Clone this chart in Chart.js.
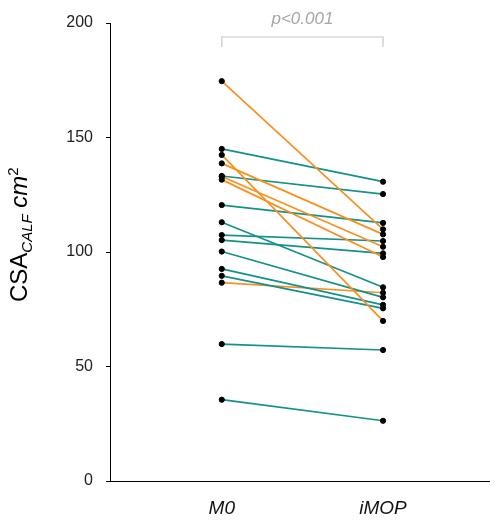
<!DOCTYPE html>
<html>
<head>
<meta charset="utf-8">
<script src="https://cdn.jsdelivr.net/npm/chart.js@4/dist/chart.umd.min.js"></script>
<style>
html,body{margin:0;padding:0;background:#fff;}
canvas{display:block;}
</style>
</head>
<body>
<canvas id="c" width="494" height="529"></canvas>
<script>
const timepoints = ['M0', 'iMOP'];
const m0Values   = [174.6, 145.0, 142.4, 138.7, 133.2, 133.0, 131.6, 120.5, 113.0, 107.4, 105.2, 100.2, 92.6, 89.6, 86.6, 59.8, 35.5];
const imopValues = [109.9, 130.7, 69.9, 107.7, 125.3, 102.3, 97.8, 112.7, 84.6, 104.8, 99.4, 80.2, 76.9, 75.4, 82.2, 57.2, 26.3];
const groups     = ['o','t','o','o','t','o','o','t','t','t','t','t','t','t','o','t','t'];
const yTicks = [0, 50, 100, 150, 200];
const pText = 'p<0.001';

const ORANGE = '#F7901E';
const TEAL = '#14918A';

const datasets = [];
m0Values.forEach((v, i) => {
  datasets.push({
    type: 'line',
    data: [{x: 0, y: v}, {x: 1, y: imopValues[i]}],
    borderColor: groups[i] === 'o' ? ORANGE : TEAL,
    borderWidth: 1.7,
    pointRadius: 0,
    order: 1
  });
});
datasets.push({
  type: 'scatter',
  data: m0Values.map(v => ({x: 0, y: v})),
  backgroundColor: '#000', borderColor: '#000', pointRadius: 2.6, order: 0
});
datasets.push({
  type: 'scatter',
  data: imopValues.map(v => ({x: 1, y: v})),
  backgroundColor: '#000', borderColor: '#000', pointRadius: 2.6, order: 0
});

const annot = {
  id: 'annot',
  afterDraw(chart) {
    const ctx = chart.ctx;
    const xs = chart.scales.x;
    const x0 = xs.getPixelForValue(0), x1 = xs.getPixelForValue(1);
    ctx.save();
    ctx.strokeStyle = '#c8c8c8';
    ctx.lineWidth = 1.2;
    ctx.beginPath();
    ctx.moveTo(x0, 47); ctx.lineTo(x0, 37); ctx.lineTo(x1, 37); ctx.lineTo(x1, 47);
    ctx.stroke();
    ctx.fillStyle = '#a6a6a6';
    ctx.font = 'italic 17px "Liberation Sans", Arial, sans-serif';
    ctx.textAlign = 'center';
    ctx.textBaseline = 'alphabetic';
    ctx.fillText(pText, (x0 + x1) / 2, 24);
    ctx.restore();

    ctx.save();
    ctx.translate(27, 302);
    ctx.rotate(-Math.PI / 2);
    ctx.fillStyle = '#000';
    ctx.textAlign = 'left';
    ctx.textBaseline = 'alphabetic';
    let x = 0;
    ctx.font = '24px "Liberation Sans", Arial, sans-serif';
    ctx.fillText('CSA', x, 0); x += ctx.measureText('CSA').width;
    ctx.font = 'italic 15px "Liberation Sans", Arial, sans-serif';
    ctx.fillText('CALF', x, 5); x += ctx.measureText('CALF').width;
    ctx.font = 'italic 24px "Liberation Sans", Arial, sans-serif';
    ctx.fillText(' cm', x, 0); x += ctx.measureText(' cm').width;
    ctx.font = '15px "Liberation Sans", Arial, sans-serif';
    ctx.fillText('2', x, -9);
    ctx.restore();
  }
};

new Chart(document.getElementById('c'), {
  data: { datasets },
  options: {
    responsive: false,
    animation: false,
    layout: { padding: { top: 23, right: 0, left: 0, bottom: 0 } },
    plugins: { legend: { display: false }, tooltip: { enabled: false } },
    scales: {
      x: {
        type: 'linear',
        min: -0.693, max: 1.657,
        afterBuildTicks(scale) { scale.ticks = [{value: 0}, {value: 1}]; },
        afterFit(scale) { scale.height = 48; scale.paddingRight = 0; },
        ticks: {
          callback: v => timepoints[v],
          font: { family: '"Liberation Sans", Arial, sans-serif', size: 19, style: 'italic' },
          color: '#111',
          padding: 16,
          maxRotation: 0
        },
        grid: { drawOnChartArea: false, drawTicks: false },
        border: { color: '#000', width: 1 }
      },
      y: {
        type: 'linear',
        min: 0, max: 200,
        afterBuildTicks(scale) { scale.ticks = yTicks.map(v => ({value: v})); },
        afterFit(scale) { scale.width = 110; },
        ticks: {
          font: { family: '"Liberation Sans", Arial, sans-serif', size: 16 },
          color: '#222',
          padding: 13
        },
        grid: { drawOnChartArea: false, drawTicks: true, tickLength: 4, color: '#000' },
        border: { color: '#000', width: 1 }
      }
    }
  },
  plugins: [annot]
});
</script>
</body>
</html>
